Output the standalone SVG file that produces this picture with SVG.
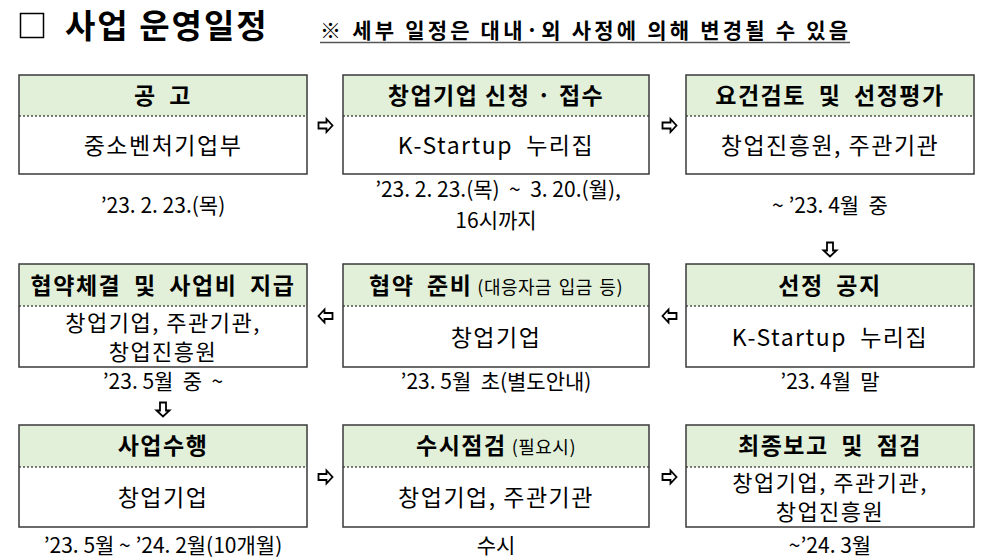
<svg xmlns="http://www.w3.org/2000/svg" width="987" height="560" viewBox="0 0 987 560" xml:space="preserve">
<style>
text{font-family:"Noto Sans CJK KR","Noto Sans",sans-serif;fill:#000;white-space:pre}
.hd{fill:#E2F0D9}
.box{fill:none;stroke:#3a3a3a;stroke-width:1.5}
.div{stroke:#000;stroke-width:1.2;stroke-dasharray:2 2}
.h{font-size:23px;font-weight:bold;text-anchor:middle;letter-spacing:1.5px;word-spacing:6px}
.b{font-size:23px;text-anchor:middle;letter-spacing:1.5px}
.b2{font-size:22px;text-anchor:middle;letter-spacing:1.5px}
.d{font-size:21px;text-anchor:middle}
.s{font-size:18px;font-weight:normal;letter-spacing:0.5px;word-spacing:2px}
.ar{fill:#fff;stroke:#000;stroke-width:1.8;stroke-linejoin:miter}
</style>
<defs>
<path id="ar" d="M-7,-3 H1 V-6.5 L7,0 L1,6.5 V3 H-7 Z"/>
</defs>
<rect width="987" height="560" fill="#fff"/>
<g id="title">
<rect x="20.5" y="13.5" width="23" height="24" fill="#fff" stroke="#000" stroke-width="1.5"/>
<text x="65" y="38" font-size="33" font-weight="bold" letter-spacing="2">사업 운영일정</text>
<text x="320" y="38" font-size="21" font-weight="bold" textLength="528" lengthAdjust="spacing">※ 세부 일정은 대내·외 사정에 의해 변경될 수 있음</text>
<line x1="320" y1="42.5" x2="850" y2="42.5" stroke="#555" stroke-width="1.5"/>
</g>
<g id="n1">
<rect class="hd" x="19" y="75" width="288" height="41"/>
<line class="div" x1="19" y1="116" x2="307" y2="116"/>
<rect class="box" x="19" y="75" width="288" height="99"/>
<text class="h" x="163" y="104">공 고</text>
<text class="b" x="163" y="154">중소벤처기업부</text>
<text class="d" x="163" y="213">’23. 2. 23.(목)</text>
</g>
<g id="n2">
<rect class="hd" x="343" y="75" width="306" height="41"/>
<line class="div" x1="343" y1="116" x2="649" y2="116"/>
<rect class="box" x="343" y="75" width="306" height="99"/>
<text class="h" x="496" y="104" style="word-spacing:0">창업기업 신청 · 접수</text>
<text class="b" x="496" y="154">K-Startup  누리집</text>
<text class="d" x="498" y="197">’23. 2. 23.(목)  ~  3. 20.(월),</text>
<text class="d" x="496" y="228">16시까지</text>
</g>
<g id="n3">
<rect class="hd" x="686" y="75" width="288" height="41"/>
<line class="div" x1="686" y1="116" x2="974" y2="116"/>
<rect class="box" x="686" y="75" width="288" height="99"/>
<text class="h" x="830" y="104">요건검토 및 선정평가</text>
<text class="b" x="830" y="154">창업진흥원, 주관기관</text>
<text class="d" x="830" y="213">~ ’23. 4월  중</text>
</g>
<g id="n4">
<rect class="hd" x="19" y="264" width="288" height="42"/>
<line class="div" x1="19" y1="306" x2="307" y2="306"/>
<rect class="box" x="19" y="264" width="288" height="103"/>
<text class="h" x="163" y="294">협약체결 및 사업비 지급</text>
<text class="b2" x="163" y="331">창업기업, 주관기관,</text>
<text class="b2" x="163" y="360">창업진흥원</text>
<text class="d" x="163" y="389">’23. 5월  중  ~</text>
</g>
<g id="n5">
<rect class="hd" x="343" y="264" width="306" height="42"/>
<line class="div" x1="343" y1="306" x2="649" y2="306"/>
<rect class="box" x="343" y="264" width="306" height="103"/>
<text class="h" x="496" y="294">협약 준비<tspan class="s" dx="5">(대응자금 입금 등)</tspan></text>
<text class="b" x="496" y="346">창업기업</text>
<text class="d" x="496" y="389">’23. 5월  초(별도안내)</text>
</g>
<g id="n6">
<rect class="hd" x="686" y="264" width="288" height="42"/>
<line class="div" x1="686" y1="306" x2="974" y2="306"/>
<rect class="box" x="686" y="264" width="288" height="103"/>
<text class="h" x="830" y="294">선정 공지</text>
<text class="b" x="830" y="346">K-Startup  누리집</text>
<text class="d" x="830" y="389">’23. 4월  말</text>
</g>
<g id="n7">
<rect class="hd" x="19" y="425" width="288" height="42"/>
<line class="div" x1="19" y1="467" x2="307" y2="467"/>
<rect class="box" x="19" y="425" width="288" height="102"/>
<text class="h" x="163" y="454">사업수행</text>
<text class="b" x="163" y="506">창업기업</text>
<text class="d" x="163" y="553">’23. 5월 ~ ’24. 2월(10개월)</text>
</g>
<g id="n8">
<rect class="hd" x="343" y="425" width="306" height="42"/>
<line class="div" x1="343" y1="467" x2="649" y2="467"/>
<rect class="box" x="343" y="425" width="306" height="102"/>
<text class="h" x="496" y="454">수시점검<tspan class="s" dx="5">(필요시)</tspan></text>
<text class="b" x="496" y="506">창업기업, 주관기관</text>
<text class="d" x="496" y="553">수시</text>
</g>
<g id="n9">
<rect class="hd" x="686" y="425" width="288" height="42"/>
<line class="div" x1="686" y1="467" x2="974" y2="467"/>
<rect class="box" x="686" y="425" width="288" height="102"/>
<text class="h" x="830" y="454">최종보고 및 점검</text>
<text class="b2" x="830" y="491">창업기업, 주관기관,</text>
<text class="b2" x="830" y="520">창업진흥원</text>
<text class="d" x="830" y="553">~’24. 3월</text>
</g>
<g id="connectors">
<use href="#ar" class="ar" transform="translate(325.5,125.5)"/>
<use href="#ar" class="ar" transform="translate(669.5,125.5)"/>
<use href="#ar" class="ar" transform="translate(830,249.5) rotate(90)"/>
<use href="#ar" class="ar" transform="translate(669.5,316) rotate(180)"/>
<use href="#ar" class="ar" transform="translate(325.5,316) rotate(180)"/>
<use href="#ar" class="ar" transform="translate(163,409.5) rotate(90)"/>
<use href="#ar" class="ar" transform="translate(325.5,477)"/>
<use href="#ar" class="ar" transform="translate(669.5,477)"/>
</g>
</svg>
